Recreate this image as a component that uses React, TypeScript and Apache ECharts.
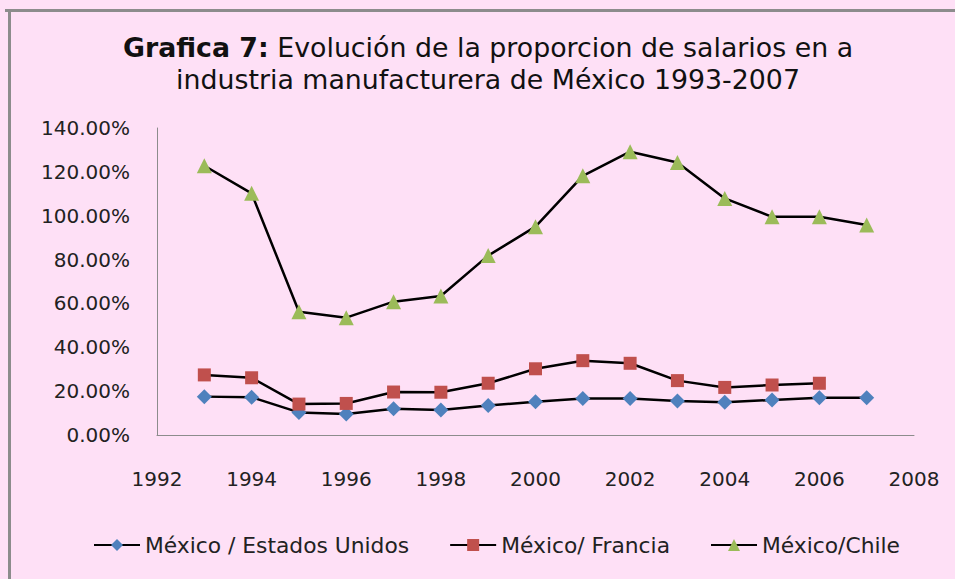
import React, { useEffect, useRef } from "react";
import * as echarts from "echarts";

const years = [1993, 1994, 1995, 1996, 1997, 1998, 1999, 2000, 2001, 2002, 2003, 2004, 2005, 2006, 2007];
const mexUSA = [17.5, 17.2, 10.3, 9.6, 12.0, 11.4, 13.4, 15.2, 16.7, 16.7, 15.5, 14.9, 16.0, 17.0, 17.0];
const mexFrancia = [27.4, 26.1, 14.1, 14.4, 19.6, 19.5, 23.6, 30.2, 33.9, 32.7, 24.8, 21.7, 22.8, 23.6];
const mexChile = [122.8, 110.2, 56.2, 53.5, 60.8, 63.4, 81.8, 95.0, 118.2, 129.2, 124.3, 107.9, 99.5, 99.5, 95.8];
const seriesNames = ["México / Estados Unidos", "México/ Francia", "México/Chile"];

const pairs = (vals: number[]) => vals.map((v, i) => [years[i], v]);

export default function App() {
  const ref = useRef<HTMLDivElement>(null);
  useEffect(() => {
    document.body.style.margin = "0";
    document.body.style.overflow = "hidden";
    const chart = echarts.init(ref.current!, null, { renderer: "svg" });
    const font = "DejaVu Sans";
    chart.setOption({
      animation: false,
      backgroundColor: "#FEE0F6",
      title: {
        left: 483,
        top: 26,
        textAlign: "center",
        text: "{b|Grafica 7:} Evolución de la proporcion de salarios en a\nindustria manufacturera de México 1993-2007",
        textStyle: {
          fontFamily: font,
          fontSize: 26.8,
          fontWeight: "normal",
          color: "#111",
          lineHeight: 32,
          rich: { b: { fontFamily: font, fontSize: 26.8, fontWeight: "bold", color: "#111", lineHeight: 32 } },
        },
      },
      graphic: [
        { type: "rect", shape: { x: 5, y: 9, width: 950, height: 3 }, style: { fill: "#8C8C8C" } },
        { type: "rect", shape: { x: 8, y: 9, width: 3, height: 570 }, style: { fill: "#8C8C8C" } },
      ],
      grid: { left: 157, right: 41, top: 128, bottom: 144 },
      xAxis: {
        type: "value",
        min: 1992,
        max: 2008,
        interval: 2,
        axisLine: { lineStyle: { color: "#8C8C8C", width: 1 } },
        axisTick: { show: false },
        splitLine: { show: false },
        axisLabel: {
          fontFamily: font,
          fontSize: 20,
          color: "#222",
          margin: 34,
          formatter: (v: number) => String(v),
        },
      },
      yAxis: {
        type: "value",
        min: 0,
        max: 140,
        interval: 20,
        axisLine: { show: true, lineStyle: { color: "#8C8C8C", width: 1 } },
        axisTick: { show: false },
        splitLine: { show: false },
        axisLabel: {
          fontFamily: font,
          fontSize: 20,
          color: "#222",
          margin: 27,
          formatter: (v: number) => v.toFixed(2) + "%",
        },
      },
      legend: {
        bottom: 18,
        left: 88,
        itemWidth: 46,
        itemHeight: 15,
        itemGap: 40,
        textStyle: { fontFamily: font, fontSize: 21.8, color: "#222" },
        data: seriesNames,
      },
      series: [
        {
          name: seriesNames[0],
          type: "line",
          data: pairs(mexUSA),
          symbol: "diamond",
          symbolSize: 15,
          itemStyle: { color: "#4F81BD" },
          lineStyle: { color: "#000", width: 2.5 },
        },
        {
          name: seriesNames[1],
          type: "line",
          data: pairs(mexFrancia),
          symbol: "rect",
          symbolSize: 13,
          itemStyle: { color: "#C0504D" },
          lineStyle: { color: "#000", width: 2.5 },
        },
        {
          name: seriesNames[2],
          type: "line",
          data: pairs(mexChile),
          symbol: "triangle",
          symbolSize: 15,
          itemStyle: { color: "#9BBB59" },
          lineStyle: { color: "#000", width: 2.5 },
        },
      ],
    });
    return () => chart.dispose();
  }, []);
  return <div ref={ref} style={{ width: 955, height: 579 }} />;
}
